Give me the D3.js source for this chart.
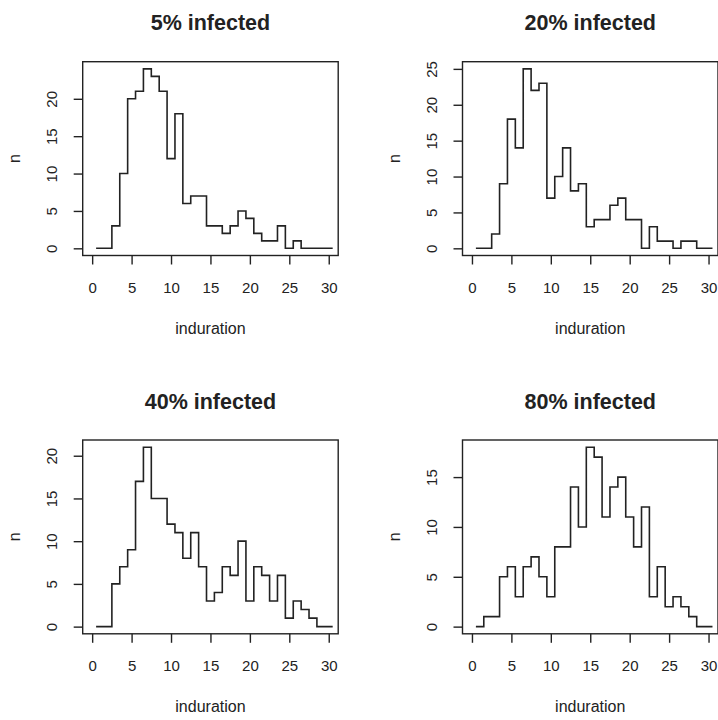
<!DOCTYPE html>
<html>
<head>
<meta charset="utf-8">
<script src="https://cdn.jsdelivr.net/npm/d3@7"></script>
<style>
  body { margin: 0; background: #fff; }
  text { font-family: "Liberation Sans", Arial, sans-serif; fill: #222; }
</style>
</head>
<body>
<script>
// induration values 1..30, counts per panel
const xValues = d3.range(1, 31)
const infected5 = [0,0,3,10,20,21,24,23,21,12,18,6,7,7,3,3,2,3,5,4,2,1,1,3,0,1,0,0,0,0]
const infected20 = [0,0,2,9,18,14,25,22,23,7,10,14,8,9,3,4,4,6,7,4,4,0,3,1,1,0,1,1,0,0]
const infected40 = [0,0,5,7,9,17,21,15,15,12,11,8,11,7,3,4,7,6,10,3,7,6,3,6,1,3,2,1,0,0]
const infected80 = [0,1,1,5,6,3,6,7,5,3,8,8,14,10,18,17,11,14,15,11,8,12,3,6,2,3,2,1,0,0]
const titles = ["5% infected", "20% infected", "40% infected", "80% infected"]
const xTicks = [0, 5, 10, 15, 20, 25, 30]

const svg = d3.select("body").append("svg")
    .attr("width", 718)
    .attr("height", 720)

const panels = [
    {title: titles[0], data: infected5, left: 82.7, top: 61.7},
    {title: titles[1], data: infected20, left: 462.5, top: 61.7},
    {title: titles[2], data: infected40, left: 82.7, top: 440},
    {title: titles[3], data: infected80, left: 462.5, top: 440}
]
const boxW = 255.5
const boxH = 193.8

panels.forEach((p) => drawPanel(p))

function drawPanel(p){
    let right = p.left + boxW
    let bottom = p.top + boxH
    let g = svg.append("g")

    let x = d3.scaleLinear().domain([-1.2, 31.2]).range([p.left, right])
    let maxY = d3.max(p.data)
    let y = d3.scaleLinear().domain([-0.04 * maxY, 1.04 * maxY]).range([bottom, p.top])

    // step line: each count spans [x-0.5, x+0.5]
    let pts = xValues.map((v, i) => [v - 0.5, p.data[i]])
    pts.push([xValues[xValues.length - 1] + 0.5, p.data[p.data.length - 1]])
    let line = d3.line()
        .x(d => x(d[0]))
        .y(d => y(d[1]))
        .curve(d3.curveStepAfter)

    g.append("path")
        .attr("d", line(pts))
        .attr("fill", "none")
        .attr("stroke", "#222")
        .attr("stroke-width", 1.6)

    g.append("rect")
        .attr("x", p.left)
        .attr("y", p.top)
        .attr("width", boxW)
        .attr("height", boxH)
        .attr("fill", "none")
        .attr("stroke", "#222")
        .attr("stroke-width", 1.4)

    let xAxis = d3.axisBottom(x).tickValues(xTicks).tickSize(9).tickPadding(18)
    let xg = g.append("g").attr("transform", `translate(0,${bottom})`).call(xAxis)
    xg.select(".domain").remove()
    xg.selectAll("line").attr("stroke", "#222").attr("stroke-width", 1.4)
    xg.selectAll("text").attr("font-size", 15).attr("font-family", "Liberation Sans, Arial, sans-serif").attr("fill", "#222")

    let yAxis = d3.axisLeft(y).tickValues(d3.range(0, maxY + 1, 5)).tickSize(9).tickPadding(0)
    let yg = g.append("g").attr("transform", `translate(${p.left},0)`).call(yAxis)
    yg.select(".domain").remove()
    yg.selectAll("line").attr("stroke", "#222").attr("stroke-width", 1.4)
    yg.selectAll("text")
        .attr("font-size", 15)
        .attr("font-family", "Liberation Sans, Arial, sans-serif")
        .attr("fill", "#222")
        .attr("x", null)
        .attr("dy", null)
        .attr("y", 0)
        .attr("text-anchor", "middle")
        .attr("transform", "translate(-25.5,0) rotate(-90)")

    g.append("text")
        .attr("x", (p.left + right) / 2)
        .attr("y", p.top - 31.5)
        .attr("text-anchor", "middle")
        .attr("font-size", 21.5)
        .attr("font-weight", "bold")
        .attr("fill", "#111")
        .text(p.title)

    g.append("text")
        .attr("x", (p.left + right) / 2)
        .attr("y", bottom + 78.5)
        .attr("text-anchor", "middle")
        .attr("font-size", 16)
        .text("induration")

    g.append("text")
        .attr("transform", `translate(${p.left - 63},${(p.top + bottom) / 2}) rotate(-90)`)
        .attr("text-anchor", "middle")
        .attr("font-size", 16)
        .text("n")
}
</script>
</body>
</html>
